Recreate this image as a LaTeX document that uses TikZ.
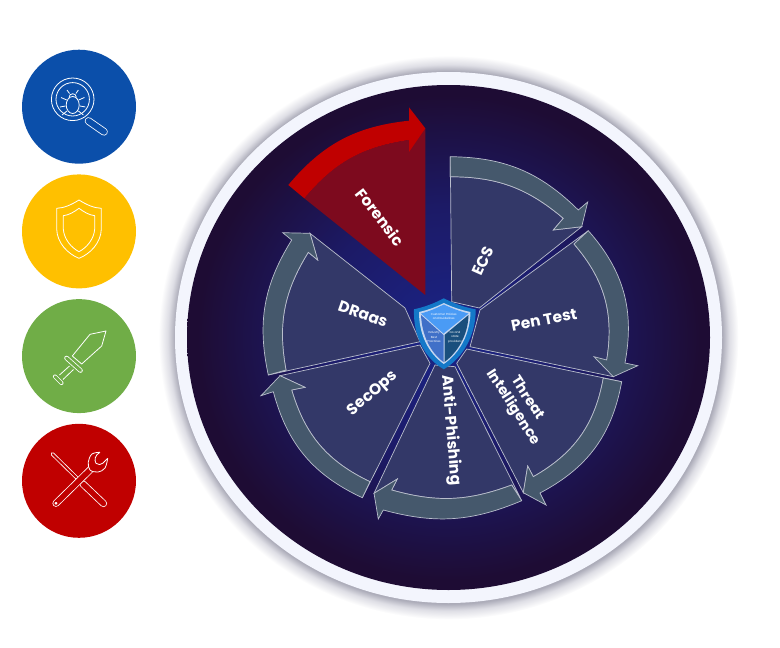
\documentclass[tikz,border=0pt]{standalone}
\usepackage{fontspec}
\setmainfont{Poppins}
\usepackage{pgf, tikz}
\usetikzlibrary{arrows, positioning}

\definecolor{bugblue}{HTML}{0B4FAA}
\definecolor{guardyellow}{HTML}{FFC000}
\definecolor{swordgreen}{HTML}{70AD47}
\definecolor{toolred}{HTML}{C00000}
\definecolor{wheeldark}{HTML}{1E0C34}
\definecolor{wheelmid}{HTML}{1C1A66}
\definecolor{wheelglow}{HTML}{1B2488}
\definecolor{ringpale}{HTML}{F3F5FD}
\definecolor{sectorfill}{HTML}{333868}
\definecolor{arrowfill}{HTML}{45586C}
\definecolor{edgepale}{HTML}{B9BECC}
\definecolor{forensicfill}{HTML}{7D0A1E}
\definecolor{halogray}{HTML}{ACACB9}
\definecolor{halosoft}{HTML}{DEDEE5}
\definecolor{shieldrim}{HTML}{1478C8}
\definecolor{shieldedge}{HTML}{C5D6F0}
\definecolor{facettop}{HTML}{4A9BF5}
\definecolor{facetleft}{HTML}{4070C8}
\definecolor{facetright}{HTML}{1A4F7D}

\pgfdeclareradialshading{wheelshade}{\pgfpoint{0bp}{0bp}}{
  color(0bp)=(wheelglow); color(13bp)=(wheelmid);
  color(24bp)=(wheeldark); color(50bp)=(wheeldark)}
\pgfdeclareradialshading{haloshade}{\pgfpoint{0bp}{0bp}}{
  color(0bp)=(halogray); color(23.6bp)=(halogray); color(24.2bp)=(halosoft);
  color(25bp)=(white); color(50bp)=(white)}

\begin{document}
\begin{tikzpicture}[
      x = 1pt, y = -1pt,           % reference pixels
      node distance = 124.7pt,     % distance between icon discs
      semithick
    ]

    \tikzstyle{Disc}=[      % Defines style for the icon discs
      circle,
      minimum size = 114pt,
      inner sep = 0pt
    ]
    \tikzstyle{Ico}=[       % Thin white icon line
      draw = white,
      line width = 0.8pt,
      line join = round
    ]
    \tikzstyle{Bar}=[       % Hollow rounded bar of an icon
      white,
      line width = 0.8pt,
      line cap = round
    ]
    \tikzstyle{Sec}=[       % Body of a wheel sector
      fill = sectorfill,
      draw = edgepale,
      line width = 0.7pt
    ]
    \tikzstyle{Arw}=[       % Curved arrow round a sector
      fill = arrowfill,
      draw = edgepale,
      line width = 0.7pt,
      line join = miter
    ]
    \tikzstyle{Lbl}=[       % Labels on the sectors
      text = white,
      font = \fontsize{15.5}{18}\selectfont\bfseries,
      align = center,
      inner sep = 0pt
    ]
    \tikzstyle{Tiny}=[      % Labels on the small shield
      text = white,
      font = \fontsize{2.9}{4.4}\selectfont,
      align = center,
      inner sep = 0pt
    ]

    \useasboundingbox (0,0) rectangle (780,648);

    % Definition of the icon discs
    \node[Disc, fill = bugblue] (bug) at (79,106.7) {};
    \node[Disc, fill = guardyellow] (guard) [below of=bug] {};
    \node[Disc, fill = swordgreen] (sword) [below of=guard] {};
    \node[Disc, fill = toolred] (tools) [below of=sword] {};

    % Magnifier with bug
    \draw[Ico] (72.7,99.3) circle (21.3pt);
    \draw[Ico] (72.7,99.3) circle (16.7pt);
    \draw[Bar, double = bugblue, double distance = 6pt] (88.5,121) -- (104,131.8);
    \draw[Ico] (72.7,105) ellipse (6.5pt and 8.5pt);
    \draw[Ico] (69,97.5) .. controls (69,92.5) and (76.4,92.5) .. (76.4,97.5);
    \draw[Ico] (69.5,93.5) -- (67,90);
    \draw[Ico] (75.9,93.5) -- (78.4,90);
    \draw[Ico] (66.7,100) -- (61,97.5);
    \draw[Ico] (78.7,100) -- (84.4,97.5);
    \draw[Ico] (65.5,106) -- (60,107);
    \draw[Ico] (79.9,106) -- (85.4,107);
    \draw[Ico] (67,111) -- (62,115);
    \draw[Ico] (78.4,111) -- (83.4,115);

    % Shield icon
    \draw[Ico] (79,200) .. controls (71,205) and (64,208) .. (56.7,208.3)
      -- (56.7,229) .. controls (57,243) and (68,254) .. (79,258.3)
      .. controls (90,254) and (101,243) .. (101.3,229) -- (101.3,208.3)
      .. controls (94,208) and (87,205) .. (79,200) -- cycle;
    \draw[Ico] (79,208.3) .. controls (74,212) and (69,215) .. (63.3,215.7)
      -- (63.3,229) .. controls (64,239) and (71,247.5) .. (79,251.7)
      .. controls (87,247.5) and (94,239) .. (94.7,229) -- (94.7,215.7)
      .. controls (89,215) and (84,212) .. (79,208.3) -- cycle;

    % Sword icon
    \draw[Ico] (106,331) -- (90,334.3) -- (72.3,356) -- (81.7,364) -- (101.7,346) -- cycle;
    \draw[Bar, double = swordgreen, double distance = 3pt] (66.5,358) -- (80.5,370.5);
    \draw[Ico] (69.5,366) -- (59.5,375);
    \draw[Ico] (73.5,369.5) -- (63,379.5);
    \draw[Bar, double = swordgreen, double distance = 2.5pt] (55,376.5) -- (61.5,383);

    % Crossed tools icon
    \draw[Bar, double = toolred, double distance = 2pt] (52.5,454) -- (80,481);
    \draw[Bar, double = toolred, double distance = 5.5pt] (83,484) -- (103.5,503.5);
    \draw[Bar, double = toolred, double distance = 5.5pt] (56,503.3) -- (92,468);
    \draw[Ico, fill = toolred] plot[smooth, tension = 0.6] coordinates {
      (100,452.3) (92,454) (88.3,462) (90,470) (98,472) (105,468) (107.7,458.3)};
    \draw[Ico, fill = toolred] (100,452.3) .. controls (95,455) and (94,460) .. (96,463.3)
      .. controls (98,465) and (101,465) .. (102.7,463.3) -- (107.7,458.3);
    \draw[Ico] (56,503.3) circle (1pt);

    % Wheel with its ring
    \shade[shading = haloshade] (448.5,337.5) ellipse (290pt and 282pt);
    \fill[ringpale] (448.5,337.5) ellipse (273.5pt and 265.5pt);
    \shade[shading = wheelshade] (448.5,337.5) ellipse (261.5pt and 252.5pt);

    % Forensic sector (highlighted)
    \fill[forensicfill] (425.3,295) -- (304.3,198.3) to[bend left=21] (409,140)
      -- (425.3,128.3) -- cycle;
    \fill[toolred] (288.3,185) to[bend left=22] (409,120.7) -- (409,107.3)
      -- (425.3,128.3) -- (409,152) -- (409,140) to[bend right=21] (304.3,198.3) -- cycle;

    % Sectors, clockwise from the top
    \path[Sec] (451.7,301.7) -- (450.3,156.7) -- (450.3,176.7) to[bend left=20] (563.3,218.3)
      -- (553.3,230) -- (581.7,226.7) -- (479.3,308) -- cycle;
    \path[Arw] (450.3,156.7) to[bend left=22] (578.3,210) -- (587.7,202) -- (581.7,226.7)
      -- (553.3,230) -- (563.3,218.3) to[bend right=20] (450.3,176.7) -- cycle;

    \path[Sec] (480,310) -- (588.3,230.7) -- (574,244) to[bend left=25] (606.7,360)
      -- (613.3,376.7) -- (470,346.7) -- cycle;
    \path[Arw] (588.3,230.7) to[bend left=26] (625,363) -- (637.7,365.7) -- (613.3,376.7)
      -- (594,356.7) -- (606.7,360) to[bend right=25] (574,244) -- cycle;

    \path[Sec] (466.7,349) -- (621.7,381.7) -- (603.3,378) to[bend left=25] (533.3,476.7)
      -- (527.7,466) -- (523.3,492.7) -- (456.7,363.3) -- cycle;
    \path[Arw] (621.7,381.7) to[bend left=26] (540,493) -- (546,505) -- (523.3,492.7)
      -- (527.7,466) -- (533.3,476.7) to[bend right=25] (603.3,378) -- cycle;

    \path[Sec] (455,366.7) -- (521.7,500.7) -- (511.7,485) to[bend left=18] (391.7,490)
      -- (397.3,479) -- (374,493.3) -- (435,365) -- cycle;
    \path[Arw] (521.7,500.7) to[bend left=19] (383.3,510) -- (378.3,519) -- (374,493.3)
      -- (397.3,479) -- (391.7,490) to[bend right=18] (511.7,485) -- cycle;

    \path[Sec] (430,363.3) -- (362.3,497.7) -- (370,481.7) to[bend left=24] (291.7,390)
      -- (305,387.3) -- (280,375.7) -- (420,345) -- cycle;
    \path[Arw] (362.3,497.7) to[bend left=25] (273.3,391.7) -- (261,395.7) -- (280,375.7)
      -- (305,387.3) -- (291.7,390) to[bend right=24] (370,481.7) -- cycle;

    \path[Sec] (420,341.7) -- (268.3,375) -- (286,370) to[bend left=21] (308.3,252.3)
      -- (317.7,260) -- (310,233.3) -- (405,308) -- cycle;
    \path[Arw] (268.3,375) to[bend left=22] (291.7,240) -- (282.7,232.7) -- (310,233.3)
      -- (317.7,260) -- (308.3,252.3) to[bend right=21] (286,370) -- cycle;

    % Small shield in the middle
    \fill[shieldrim] (443.8,298.3) .. controls (435,303) and (425,307) .. (414,309.3)
      .. controls (413,335) and (424,358) .. (443.8,369.3)
      .. controls (463,358) and (476,335) .. (475.7,309.3)
      .. controls (463,307) and (453,303) .. (443.8,298.3) -- cycle;
    \fill[shieldedge] (443.8,303) .. controls (436,307) and (428,310) .. (419,312)
      .. controls (419,334) and (428,353) .. (443.8,364)
      .. controls (460,353) and (470,334) .. (470.5,312)
      .. controls (461,310) and (452,307) .. (443.8,303) -- cycle;
    \fill[facettop] (443.8,304.5) .. controls (437,308) and (430,311) .. (421,313.5)
      -- (443.5,333.5) -- (468.5,313.5) .. controls (459,311) and (451,308) .. (443.8,304.5) -- cycle;
    \fill[facetleft] (421,315) -- (443.5,335) -- (443.5,362)
      .. controls (430,352) and (422,335) .. (421,315) -- cycle;
    \fill[facetright] (468.5,315) -- (444.5,335) -- (444.5,362)
      .. controls (458,352) and (468,335) .. (468.5,315) -- cycle;

    % Definition of the labels
    \node[Tiny] (policies) at (443.8,316.5) {Customer Policies\\and Guidelines};
    \node[Tiny] (industry) at (434,337) {Industry\\Best\\Practices};
    \node[Tiny] (state) at (455,337) {Go and\\state\\providers};

    \node[Lbl, rotate = -52] (forensic) at (380.5,217) {Forensic};
    \node[Lbl, rotate = 66] (ecs) at (483,261) {ECS};
    \node[Lbl, rotate = 11] (pentest) at (544,320) {Pen Test};
    \node[Lbl, rotate = -57, font = \fontsize{14.3}{17}\selectfont\bfseries] (threat) at (520,403) {Threat\\Intelligence};
    \node[Lbl, rotate = -85] (antiphishing) at (451,430) {Anti-Phishing};
    \node[Lbl, rotate = 41] (secops) at (373,394) {SecOps};
    \node[Lbl, rotate = -19] (draas) at (363,314) {DRaas};

  \end{tikzpicture}
\end{document}
